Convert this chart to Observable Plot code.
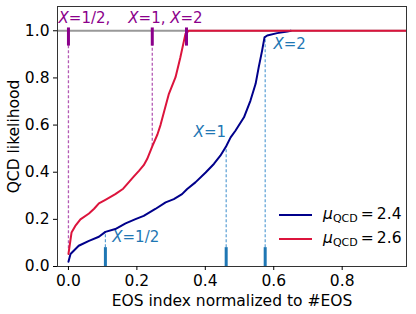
<!DOCTYPE html>
<html>
<head>
<meta charset="utf-8">
<script src="https://cdn.jsdelivr.net/npm/d3@7"></script>
<script src="https://cdn.jsdelivr.net/npm/@observablehq/plot@0.6"></script>
<style>
  html, body { margin: 0; padding: 0; background: #fff; }
  #wrap { position: relative; width: 416px; height: 314px; font-family: "DejaVu Sans", sans-serif; }
  #legend { position: absolute; left: 279px; top: 203px; font-size: 15.5px; color: #000; }
  .row { position: relative; height: 24px; display: flex; align-items: center; }
  .swatch { width: 33px; height: 2.5px; margin-right: 11px; }
  .lab i { font-style: italic; }
  .lab sub { font-size: 11px; vertical-align: -3px; }
</style>
</head>
<body>
<div id="wrap"></div>
<script>
// Blue curve: mu_QCD = 2.4
const blueX = [0,0.006,0.03,0.06,0.089,0.108,0.137,0.167,0.196,0.22,0.254,0.284,0.308,0.332,0.347,0.371,0.401,0.425,0.444,0.461,0.474,0.488,0.513,0.532,0.547,0.556,0.566,0.573,0.581,0.61,0.64,0.65];
const blueY = [0.02,0.053,0.088,0.109,0.126,0.147,0.159,0.183,0.201,0.215,0.244,0.272,0.286,0.307,0.329,0.357,0.399,0.435,0.47,0.51,0.548,0.576,0.633,0.704,0.775,0.845,0.916,0.972,0.98,0.99,0.997,1.0];
// Red curve: mu_QCD = 2.6
const redX = [0,0.009,0.02,0.035,0.06,0.075,0.089,0.108,0.137,0.16,0.176,0.19,0.206,0.22,0.23,0.245,0.26,0.269,0.28,0.293,0.313,0.327,0.342,0.352,0.99];
const redY = [0.053,0.144,0.172,0.2,0.225,0.245,0.268,0.283,0.307,0.33,0.357,0.38,0.406,0.43,0.456,0.51,0.56,0.6,0.66,0.73,0.803,0.887,0.987,1.0,1.0];

// Annotations
const blueMarkX = [0.108, 0.461, 0.575];
const blueMarkAt = [0.147, 0.51, 0.975];
const blueLabels = ["X=1/2", "X=1", "X=2"];
const blueLabelX = [0.128, 0.366, 0.599];
const blueLabelY = [0.123, 0.569, 0.944];

const redMarkX = [0, 0.245, 0.345];
const redMarkAt = [0.075, 0.51, 0.99];
const redLabels = ["X=1/2,", "X=1, X=2"];
const redLabelX = [-0.029, 0.175];
const redLabelY = [1.054, 1.054];

const seriesNames = ["2.4", "2.6"];
const seriesColors = ["#00008b", "#dc143c"];

const xTicks = [0, 0.2, 0.4, 0.6, 0.8];
const yTicks = [0, 0.2, 0.4, 0.6, 0.8, 1.0];

const blue = blueX.map((x, i) => ({x, y: blueY[i]}));
const red = redX.map((x, i) => ({x, y: redY[i]}));
const bMarks = blueMarkX.map((x, i) => ({x, at: blueMarkAt[i]}));
const rMarks = redMarkX.map((x, i) => ({x, at: redMarkAt[i]}));
const bLabs = blueLabels.map((t, i) => ({t, x: blueLabelX[i], y: blueLabelY[i]}));
const rLabs = redLabels.map((t, i) => ({t, x: redLabelX[i], y: redLabelY[i]}));

const purple = "#8b008b";
const purpleLight = "#b45ab4";
const tabBlue = "#1f77b4";
const tabBlueLight = "#5a9fd4";

const plot = Plot.plot({
  width: 416,
  height: 314,
  marginLeft: 57,
  marginRight: 10,
  marginTop: 6,
  marginBottom: 48,
  style: { fontFamily: "DejaVu Sans, sans-serif", fontSize: "15.5px", color: "#000", background: "#fff" },
  x: { domain: [-0.032, 0.988], ticks: xTicks, tickFormat: d3.format(".1f") },
  y: { domain: [0, 1.103], ticks: yTicks, tickFormat: d3.format(".1f") },
  marks: [
    Plot.ruleY([1], { stroke: "#999", strokeWidth: 2 }),
    Plot.ruleX(rMarks, { x: "x", y1: "at", y2: 0.94, stroke: purpleLight, strokeWidth: 1.3, strokeDasharray: "3,2" }),
    Plot.ruleX(bMarks, { x: "x", y1: 0.08, y2: "at", stroke: tabBlueLight, strokeWidth: 1.2, strokeDasharray: "3,2" }),
    Plot.line(blue, { x: "x", y: "y", stroke: seriesColors[0], strokeWidth: 2, clip: true }),
    Plot.line(red, { x: "x", y: "y", stroke: seriesColors[1], strokeWidth: 2, clip: true }),
    Plot.ruleX(rMarks, { x: "x", y1: 0.935, y2: 1.012, stroke: purple, strokeWidth: 3 }),
    Plot.ruleX(bMarks, { x: "x", y1: 0, y2: 0.08, stroke: tabBlue, strokeWidth: 3 }),
    Plot.text(bLabs, { x: "x", y: "y", text: "t", textAnchor: "start", fill: tabBlue, fontSize: 15 }),
    Plot.text(rLabs, { x: "x", y: "y", text: "t", textAnchor: "start", fill: purple, fontSize: 15 }),
    Plot.frame({ stroke: "#333", strokeWidth: 1 }),
    Plot.axisX({ ticks: xTicks, tickFormat: d3.format(".1f"), tickSize: 4, tickPadding: 4, label: "EOS index normalized to #EOS", labelAnchor: "center", labelArrow: "none", labelOffset: 39, fill: "#000" }),
    Plot.axisY({ ticks: yTicks, tickFormat: d3.format(".1f"), tickSize: 4, tickPadding: 4, label: "QCD likelihood", labelAnchor: "center", labelArrow: "none", labelOffset: 50, fill: "#000" })
  ]
});

// italicize the X in annotation labels
plot.querySelectorAll("text").forEach(t => {
  if (t.children.length === 0 && /^X=/.test(t.textContent)) {
    const parts = t.textContent.split(/(X)/);
    t.textContent = "";
    parts.forEach(p => {
      if (!p) return;
      const s = document.createElementNS("http://www.w3.org/2000/svg", "tspan");
      s.textContent = p;
      if (p === "X") s.setAttribute("font-style", "italic");
      t.appendChild(s);
    });
  }
});

const wrap = document.getElementById("wrap");
wrap.appendChild(plot);

const legend = document.createElement("div");
legend.id = "legend";
seriesNames.forEach((name, i) => {
  const row = document.createElement("div");
  row.className = "row";
  const sw = document.createElement("div");
  sw.className = "swatch";
  sw.style.background = seriesColors[i];
  const lab = document.createElement("span");
  lab.className = "lab";
  lab.innerHTML = "<i>μ</i><sub>QCD</sub>\u2009=\u2009" + name;
  row.appendChild(sw);
  row.appendChild(lab);
  legend.appendChild(row);
});
wrap.appendChild(legend);
</script>
</body>
</html>
